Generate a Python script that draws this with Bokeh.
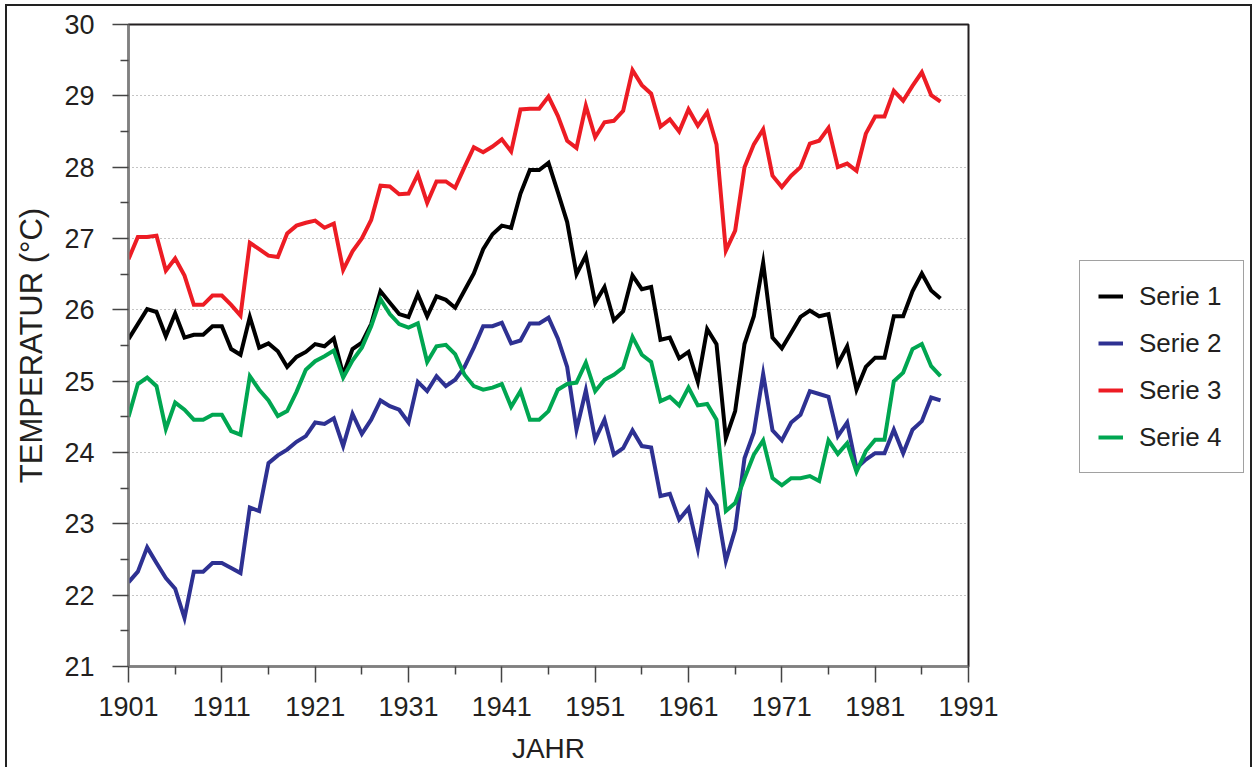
from bokeh.plotting import figure
from bokeh.models import FixedTicker, Legend, LegendItem, Range1d, Row
from bokeh.embed import file_html
from bokeh.resources import INLINE

years = list(range(1901, 1989))

serie1 = [25.59, 25.80, 26.01, 25.97, 25.63, 25.95, 25.61, 25.65, 25.65, 25.77,
          25.77, 25.45, 25.37, 25.90, 25.47, 25.53, 25.42, 25.20, 25.34, 25.41,
          25.52, 25.49, 25.60, 25.09, 25.45, 25.54, 25.80, 26.26, 26.10, 25.94,
          25.90, 26.22, 25.91, 26.19, 26.14, 26.03, 26.27, 26.51, 26.85, 27.06,
          27.18, 27.15, 27.63, 27.96, 27.96, 28.06, 27.65, 27.23, 26.50, 26.76,
          26.10, 26.32, 25.85, 25.98, 26.48, 26.29, 26.32, 25.58, 25.61, 25.32,
          25.41, 24.99, 25.73, 25.52, 24.20, 24.58, 25.52, 25.91, 26.66, 25.61,
          25.46, 25.68, 25.90, 25.99, 25.91, 25.94, 25.24, 25.49, 24.88, 25.20,
          25.33, 25.33, 25.91, 25.91, 26.26, 26.51, 26.27, 26.16]

serie2 = [22.18, 22.33, 22.67, 22.45, 22.24, 22.09, 21.68, 22.33, 22.33, 22.45,
          22.45, 22.38, 22.31, 23.23, 23.18, 23.85, 23.96, 24.04, 24.15, 24.23,
          24.42, 24.40, 24.48, 24.09, 24.54, 24.26, 24.46, 24.73, 24.65, 24.60,
          24.42, 24.99, 24.86, 25.07, 24.93, 25.02, 25.20, 25.47, 25.77, 25.77,
          25.82, 25.53, 25.57, 25.81, 25.81, 25.89, 25.60, 25.20, 24.32, 24.87,
          24.18, 24.46, 23.97, 24.06, 24.31, 24.09, 24.07, 23.39, 23.42, 23.06,
          23.22, 22.65, 23.45, 23.26, 22.48, 22.92, 23.92, 24.28, 25.10, 24.31,
          24.17, 24.42, 24.53, 24.86, 24.82, 24.78, 24.23, 24.42, 23.78, 23.90,
          23.99, 23.99, 24.32, 23.99, 24.32, 24.44, 24.77, 24.73]

serie3 = [26.71, 27.02, 27.02, 27.04, 26.55, 26.72, 26.48, 26.07, 26.07, 26.20,
          26.20, 26.07, 25.92, 26.94, 26.85, 26.76, 26.74, 27.07, 27.18, 27.22,
          27.25, 27.15, 27.21, 26.56, 26.82, 27.00, 27.26, 27.74, 27.73, 27.62,
          27.63, 27.90, 27.50, 27.80, 27.80, 27.71, 28.00, 28.28, 28.21, 28.29,
          28.39, 28.22, 28.81, 28.82, 28.82, 28.99, 28.72, 28.37, 28.27, 28.86,
          28.42, 28.63, 28.65, 28.79, 29.36, 29.15, 29.03, 28.57, 28.67, 28.50,
          28.81, 28.58, 28.77, 28.32, 26.83, 27.11, 28.00, 28.32, 28.53, 27.88,
          27.72, 27.88, 28.00, 28.33, 28.37, 28.55, 28.00, 28.05, 27.95, 28.47,
          28.71, 28.71, 29.07, 28.93, 29.14, 29.33, 29.01, 28.92]

serie4 = [24.50, 24.96, 25.05, 24.93, 24.33, 24.70, 24.60, 24.46, 24.46, 24.53,
          24.53, 24.30, 24.25, 25.07, 24.88, 24.73, 24.51, 24.58, 24.85, 25.16,
          25.28, 25.35, 25.43, 25.05, 25.29, 25.47, 25.77, 26.15, 25.94, 25.80,
          25.75, 25.81, 25.27, 25.49, 25.51, 25.38, 25.09, 24.93, 24.88, 24.91,
          24.96, 24.64, 24.86, 24.46, 24.46, 24.58, 24.88, 24.96, 24.98, 25.26,
          24.86, 25.02, 25.09, 25.19, 25.62, 25.37, 25.27, 24.72, 24.78, 24.66,
          24.91, 24.66, 24.68, 24.46, 23.18, 23.29, 23.64, 23.97, 24.17, 23.64,
          23.54, 23.64, 23.64, 23.67, 23.60, 24.17, 23.98, 24.13, 23.73, 24.02,
          24.18, 24.18, 25.00, 25.12, 25.45, 25.52, 25.21, 25.07]

series_names = ["Serie 1", "Serie 2", "Serie 3", "Serie 4"]
series_colors = ["#000000", "#2e3192", "#ed1c24", "#00a651"]

x_ticks = [1901, 1911, 1921, 1931, 1941, 1951, 1961, 1971, 1981, 1991]
x_minor = [1906, 1916, 1926, 1936, 1946, 1956, 1966, 1976, 1986]
y_ticks = [21, 22, 23, 24, 25, 26, 27, 28, 29, 30]
y_minor = [21.5, 22.5, 23.5, 24.5, 25.5, 26.5, 27.5, 28.5, 29.5]
y_grid = [22, 23, 24, 25, 26, 27, 28, 29]

FONT = "Liberation Sans"
TXT = "#231f20"

# main chart
p = figure(width=1000, height=761, output_backend="svg", toolbar_location=None,
           x_range=Range1d(1901, 1991), y_range=Range1d(21, 30),
           min_border_left=121, min_border_right=39, min_border_top=18,
           min_border_bottom=101,
           background_fill_color="white", border_fill_color="white")

p.outline_line_color = "#231f20"
p.outline_line_width = 2

p.xgrid.visible = False
p.ygrid.ticker = FixedTicker(ticks=y_grid)
p.ygrid.grid_line_color = "#8a8a8a"
p.ygrid.grid_line_dash = "1 3"
p.ygrid.grid_line_width = 1.2

p.xaxis.ticker = FixedTicker(ticks=x_ticks, minor_ticks=x_minor)
p.yaxis.ticker = FixedTicker(ticks=y_ticks, minor_ticks=y_minor)

for ax in (p.xaxis[0], p.yaxis[0]):
    ax.axis_line_color = "#808080"
    ax.axis_line_width = 2
    ax.major_tick_line_color = "#444444"
    ax.major_tick_line_width = 1.5
    ax.minor_tick_line_color = "#444444"
    ax.minor_tick_line_width = 1.5
    ax.major_tick_in = 0
    ax.major_tick_out = 16
    ax.minor_tick_in = 0
    ax.minor_tick_out = 8
    ax.major_label_text_font = FONT
    ax.major_label_text_font_size = "27px"
    ax.major_label_text_color = TXT
    ax.axis_label_text_font = FONT
    ax.axis_label_text_font_style = "normal"
    ax.axis_label_text_color = TXT

p.xaxis.axis_label = "JAHR"
p.xaxis.axis_label_text_font_size = "28px"
p.xaxis.major_label_standoff = 14
p.xaxis.axis_label_standoff = 14

p.yaxis.axis_label = "TEMPERATUR (°C)"
p.yaxis.axis_label_text_font_size = "31px"
p.yaxis.major_label_standoff = 18
p.yaxis.axis_label_standoff = 12

all_series = [serie1, serie2, serie3, serie4]
for col, vals in zip(series_colors, all_series):
    p.line(years, vals, line_width=4, line_color=col, line_join="miter")

# legend panel (separate canvas to the right of the chart)
q = figure(width=243, height=761, output_backend="svg", toolbar_location=None,
           x_range=Range1d(0, 1), y_range=Range1d(0, 1),
           x_axis_location=None, y_axis_location=None,
           min_border_left=0, min_border_right=0, min_border_top=0,
           min_border_bottom=0,
           background_fill_color="white", border_fill_color="white")
q.outline_line_color = None
q.grid.visible = False

nan = float("nan")
items = []
for name, col in zip(series_names, series_colors):
    r = q.line(x=[nan, nan], y=[nan, nan], line_width=4, line_color=col)
    items.append(LegendItem(label=name, renderers=[r]))

legend = Legend(items=items, location=(72, 193), orientation="vertical",
                border_line_color="#444444", border_line_width=1.5,
                background_fill_color="white", background_fill_alpha=1.0,
                padding=18, spacing=13, margin=0,
                label_height=34, glyph_height=34, glyph_width=25,
                label_width=86, label_standoff=16,
                label_text_font=FONT, label_text_font_size="26px",
                label_text_color=TXT)
q.add_layout(legend)

layout = Row(children=[p, q], spacing=0,
             styles={"margin-left": "5px", "margin-top": "4px",
                     "border-left": "2px solid #222222",
                     "border-top": "2px solid #222222",
                     "border-right": "2px solid #222222"})

open("out.html", "w").write(file_html(layout, INLINE))
